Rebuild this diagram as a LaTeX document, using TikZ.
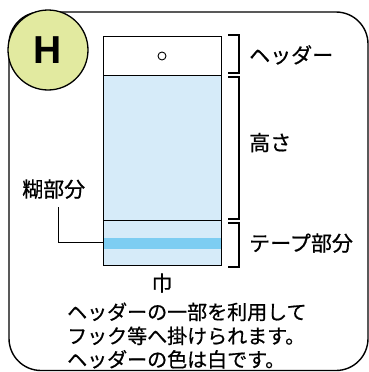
\documentclass[tikz,border=0pt]{standalone}
\usepackage{fontspec}
\setmainfont{Noto Sans CJK JP}[FakeBold=0.7]
\newfontfamily\hfont{Liberation Sans}
\definecolor{baglight}{RGB}{214,235,249}
\definecolor{tapeblue}{RGB}{125,205,242}
\definecolor{badgefill}{RGB}{226,234,160}
\tikzset{
  label/.style={anchor=base west, inner sep=0pt, font=\fontsize{21}{24}\selectfont},
  note/.style={anchor=base west, inner sep=0pt, font=\fontsize{20}{24}\selectfont},
  bracket/.style={line width=1.1pt}
}
\begin{document}
\begin{tikzpicture}[x=1pt, y=-1pt]
			\useasboundingbox (0,0) rectangle (369,372);
			% outer frame, its bottom runs off the page
			\draw[line width=1.4pt, rounded corners=32pt] (9,12) rectangle (368,370.5);
			% bag corners
			\coordinate (TL) at (103,36);
			\coordinate (BR) at (221,265);
			\coordinate (HL) at (103,75); % header bottom
			\coordinate (TP) at (103,220); % tape line
			\fill[baglight] (HL) rectangle (BR);
			\fill[tapeblue] (103,238) rectangle (221,249);
			\draw[line width=1pt] (TL) rectangle (BR);
			\draw[line width=1pt] (HL) -- (221,75);
			\draw[line width=1pt] (TP) -- (221,220);
			\draw[line width=0.9pt] (162,56) circle (4);
			% brackets
			\draw[bracket] (228,35) -- (239,35) -- (239,73) -- (228,73);
			\draw[bracket] (228,77) -- (239,77) -- (239,219) -- (228,219);
			\draw[bracket] (228,223) -- (239,223) -- (239,267) -- (228,267);
			\node[label] (header) at (249,63) {ヘッダー};
			\node[label] (height) at (249,150.5) {高さ};
			\node[label] (tape) at (249,251) {テープ部分};
			% glue leader
			\node[label] (glue) at (22,197) {糊部分};
			\coordinate (gluetop) at (58,207);
			\coordinate (gluein) at (103,242);
			\draw[line width=1pt] (gluetop) |- (gluein);
			\node[label, anchor=base] (width) at (162,291) {巾};
			\node[note] (line1) at (67,319.5) {ヘッダーの一部を利用して};
			\node[note] (line2) at (67,343.5) {フック等へ掛けられます。};
			\node[note] (line3) at (67,367) {ヘッダーの色は白です。};
			% badge
			\node[circle, draw, line width=1.3pt, fill=badgefill, minimum size=80pt, inner sep=0pt] (badge) at (48,50) {};
			\node[font=\hfont\bfseries\fontsize{39}{40}\selectfont, inner sep=0pt] at (badge) {H};
		\end{tikzpicture}
\end{document}
